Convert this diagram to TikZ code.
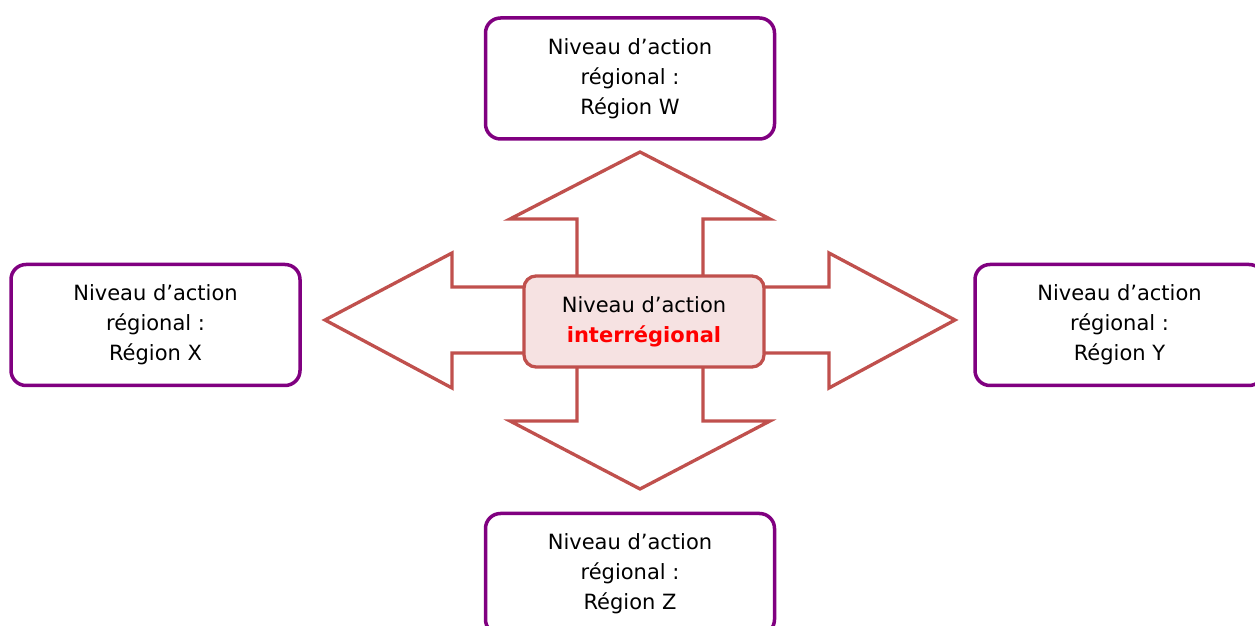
\documentclass[tikz,border=0pt]{standalone}
\usepackage{fontspec}
\setmainfont{DejaVu Sans}
\definecolor{regionpurple}{HTML}{800080}
\definecolor{arrowred}{HTML}{C0504D}
\definecolor{centrefill}{HTML}{F6E2E2}
\tikzset{
  regionbox/.style={draw=regionpurple, line width=3.5pt, rounded corners=15pt,
    minimum width=289pt, minimum height=121pt, align=center, fill=white,
    font=\fontsize{21}{30}\selectfont},
  centrebox/.style={draw=arrowred, line width=3.3pt, rounded corners=12pt,
    minimum width=240pt, minimum height=91pt, align=center, fill=centrefill,
    font=\fontsize{21}{30}\selectfont}
}
\begin{document}
\begin{tikzpicture}[x=1pt, y=1pt]
\useasboundingbox (0,0) rectangle (1255,626);

\draw[arrowred, line width=3.3pt, fill=white, line join=miter]
  (640,474) -- (770,407) -- (703,407) -- (703,339) -- (829,339) -- (829,373)
  -- (955,306) -- (829,238) -- (829,273) -- (703,273) -- (703,205) -- (770,205)
  -- (640,137) -- (510,205) -- (577,205) -- (577,273) -- (452,273) -- (452,238)
  -- (325,306) -- (452,373) -- (452,339) -- (577,339) -- (577,407) -- (510,407)
  -- cycle;

\node[centrebox] (inter) at (644,304.5) {Niveau d’action\\
  \textcolor{red}{\bfseries interrégional}};

\node[regionbox] (regW) at (630,547.5) {Niveau d’action\\régional :\\Région W};
\node[regionbox] (regX) at (155.5,301) {Niveau d’action\\régional :\\Région X};
\node[regionbox] (regY) at (1119.5,301) {Niveau d’action\\régional :\\Région Y};
\node[regionbox] (regZ) at (630,52) {Niveau d’action\\régional :\\Région Z};

\end{tikzpicture}
\end{document}
